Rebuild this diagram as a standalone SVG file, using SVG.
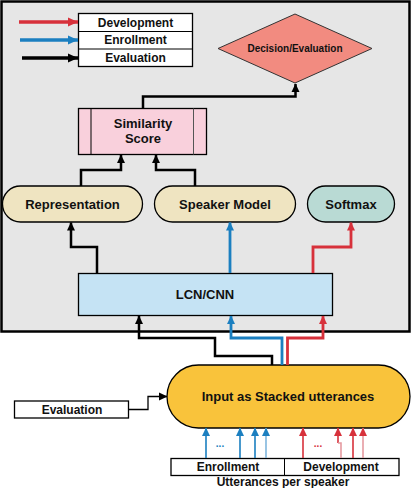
<svg xmlns="http://www.w3.org/2000/svg" width="412" height="488" viewBox="0 0 412 488">
<style>
text{font-family:"Liberation Sans",Arial,sans-serif;font-weight:bold;fill:#111;text-anchor:middle;dominant-baseline:central}
.k{fill:none;stroke:#000;stroke-width:2.5}
.b{fill:none;stroke:#1b7fc0;stroke-width:2.8}
.r{fill:none;stroke:#d7313b;stroke-width:2.8}
.thin{fill:none;stroke:#000;stroke-width:1.3}
.box{stroke:#000;stroke-width:1.3}
</style>
<defs>
<marker id="ak" markerUnits="userSpaceOnUse" markerWidth="9" markerHeight="9" refX="8" refY="4.5" orient="auto"><path d="M0,0.5 L8.5,4.5 L0,8.5 Z" fill="#000"/></marker>
<marker id="ab" markerUnits="userSpaceOnUse" markerWidth="9" markerHeight="9" refX="8" refY="4.5" orient="auto"><path d="M0,0.5 L8.5,4.5 L0,8.5 Z" fill="#1b7fc0"/></marker>
<marker id="ar" markerUnits="userSpaceOnUse" markerWidth="9" markerHeight="9" refX="8" refY="4.5" orient="auto"><path d="M0,0.5 L8.5,4.5 L0,8.5 Z" fill="#d7313b"/></marker>
<marker id="akL" markerUnits="userSpaceOnUse" markerWidth="11" markerHeight="11" refX="10" refY="5" orient="auto"><path d="M0,0.5 L10,5 L0,9.5 Z" fill="#000"/></marker>
<marker id="abL" markerUnits="userSpaceOnUse" markerWidth="11" markerHeight="11" refX="10" refY="5" orient="auto"><path d="M0,0.5 L10,5 L0,9.5 Z" fill="#1b7fc0"/></marker>
<marker id="arL" markerUnits="userSpaceOnUse" markerWidth="11" markerHeight="11" refX="10" refY="5" orient="auto"><path d="M0,0.5 L10,5 L0,9.5 Z" fill="#d7313b"/></marker>
</defs>
<rect width="412" height="488" fill="#fff"/>
<rect id="frame" x="1.5" y="1.5" width="408" height="330" fill="#e6e6e6" stroke="#000" stroke-width="2.5"/>

<g id="legend">
<rect class="box" x="78.5" y="13.5" width="114" height="53" fill="#fff"/>
<line x1="78.5" y1="31.5" x2="192.5" y2="31.5" stroke="#000" stroke-width="1"/>
<line x1="78.5" y1="49" x2="192.5" y2="49" stroke="#000" stroke-width="1"/>
<text x="135.5" y="22.5" font-size="12">Development</text>
<text x="135.5" y="40" font-size="12">Enrollment</text>
<text x="135.5" y="57.5" font-size="12">Evaluation</text>
</g>

<g id="decision">
<polygon points="295,14 372,48.5 295,83 218,48.5" fill="#f28b80" stroke="#333" stroke-width="1"/>
<text x="295" y="48.5" font-size="10">Decision/Evaluation</text>
</g>

<g id="similarity">
<rect class="box" x="78.5" y="108.5" width="128" height="46" fill="#f9d0dc"/>
<line x1="91" y1="108.5" x2="91" y2="154.5" stroke="#000" stroke-width="1"/>
<line x1="193.5" y1="108.5" x2="193.5" y2="154.5" stroke="#555" stroke-width="1"/>
<text x="143" y="123" font-size="13">Similarity</text>
<text x="143" y="138.5" font-size="13">Score</text>
</g>

<g id="representation">
<rect class="box" x="2.5" y="186" width="140" height="36" rx="18" fill="#efe4c1"/>
<text x="72.5" y="204" font-size="13">Representation</text>
</g>
<g id="speaker">
<rect class="box" x="154.5" y="186" width="141" height="36" rx="18" fill="#efe4c1"/>
<text x="225" y="204" font-size="13">Speaker Model</text>
</g>
<g id="softmax">
<rect class="box" x="307.5" y="186" width="87" height="36" rx="18" fill="#b9dad4"/>
<text x="351" y="204" font-size="13">Softmax</text>
</g>

<g id="lcn">
<rect class="box" x="78.5" y="273.5" width="254" height="42" fill="#c5e3f4"/>
<text x="205" y="294" font-size="13">LCN/CNN</text>
</g>

<g id="input">
<rect class="box" x="167" y="365" width="243" height="63" rx="31.5" fill="#f9c33b"/>
<text x="288" y="396" font-size="13">Input as Stacked utterances</text>
</g>

<g id="evaluation">
<rect class="box" x="14.5" y="401" width="114" height="17" fill="#fff"/>
<text x="72" y="409.5" font-size="12">Evaluation</text>
</g>

<g id="utterances">
<rect class="box" x="171" y="458.5" width="228" height="17" fill="#fff"/>
<line x1="284.5" y1="458.5" x2="284.5" y2="475.5" stroke="#000" stroke-width="1"/>
<text x="228" y="467" font-size="12">Enrollment</text>
<text x="341" y="467" font-size="12">Development</text>
<text x="283" y="481.5" font-size="12">Utterances per speaker</text>
</g>

<g id="connectors">
<line x1="19" y1="22" x2="78" y2="22" stroke="#d7313b" stroke-width="3.5" marker-end="url(#arL)"/>
<line x1="20" y1="40" x2="78" y2="40" stroke="#1b7fc0" stroke-width="3.5" marker-end="url(#abL)"/>
<line x1="22" y1="58" x2="78" y2="58" stroke="#000" stroke-width="3.5" marker-end="url(#akL)"/>

<path class="k" d="M143,108 V96.5 H295.5 V84" marker-end="url(#ak)"/>
<path class="k" d="M81,186 V170 H121 V155" marker-end="url(#ak)"/>
<path class="k" d="M195,186 V170 H156 V155" marker-end="url(#ak)"/>

<path class="k" d="M97,273 V247 H71 V222.5" marker-end="url(#ak)"/>
<path class="b" d="M230,273 V222.5" marker-end="url(#ab)"/>
<path class="r" d="M313,273 V247 H351 V222.5" marker-end="url(#ar)"/>

<path class="k" d="M272,365 V356 H215 V338 H139 V316" marker-end="url(#ak)"/>
<path class="b" d="M282,365 V338 H231 V316" marker-end="url(#ab)"/>
<path class="r" d="M287.5,365 V338 H323 V316" marker-end="url(#ar)"/>

<path class="thin" d="M129,409.5 H148 V396.5 H167" marker-end="url(#ak)"/>

<g stroke-width="1.6" fill="none">
<path d="M206,458 V428" stroke="#1b7fc0" marker-end="url(#ab)"/>
<path d="M240,458 V428" stroke="#1b7fc0" marker-end="url(#ab)"/>
<path d="M255,458 V428" stroke="#1b7fc0" marker-end="url(#ab)"/>
<path d="M266,458 V428" stroke="#7fb6dd" marker-end="url(#ab)"/>
<path d="M303,458 V428" stroke="#d7313b" marker-end="url(#ar)"/>
<path d="M338,443 V428" stroke="#d7313b" marker-end="url(#ar)"/>
<path d="M341,458 V443 H338" stroke="#e59aa0"/>
<path d="M353,458 V428" stroke="#d7313b" marker-end="url(#ar)"/>
<path d="M363,458 V428" stroke="#e59aa0" marker-end="url(#ar)"/>
</g>
<text x="220" y="443" font-size="10" style="fill:#1b7fc0">...</text>
<text x="318" y="443" font-size="10" style="fill:#d7313b">...</text>
</g>
</svg>
